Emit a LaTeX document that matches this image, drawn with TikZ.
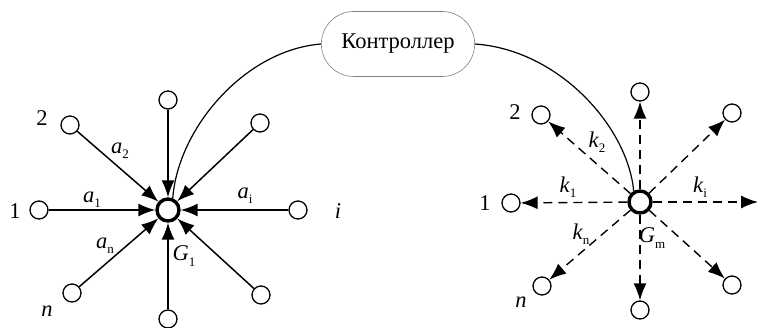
\documentclass[tikz,border=0pt]{standalone}
\usepackage{fontspec}
\setmainfont{Liberation Serif}
\usetikzlibrary{arrows.meta,shapes.misc}
\newcommand{\lbl}[2]{\textit{#1}\raisebox{-0.5ex}{\fontsize{13}{13}\selectfont #2}}
\begin{document}
\begin{tikzpicture}[x=1pt,y=-1pt,
  leaf/.style={circle,draw,line width=1.3pt,minimum size=18pt,inner sep=0pt,fill=white},
  hub/.style={circle,draw,line width=3.4pt,minimum size=22pt,inner sep=0pt,fill=white},
  inarr/.style={line width=1.5pt,-{Latex[length=17pt,width=13pt]}},
  outarr/.style={line width=1.4pt,dash pattern=on 9pt off 6pt,-{Latex[length=17pt,width=13pt]}},
  txt/.style={font=\fontsize{22.5}{22.5}\selectfont,inner sep=0pt},
  ctrlbox/.style={rounded rectangle,draw=gray,line width=0.6pt,minimum width=160pt,minimum height=65pt,font=\fontsize{22.5}{22.5}\selectfont}]
\useasboundingbox (0,0) rectangle (760,328);
% controller
\node[ctrlbox] (ctrl) at (398,44) {Контроллер};
% left star
\node[hub] (h1) at (168,210) {};
\node[leaf] (l1) at (39,210) {};
\node[leaf] (l2) at (70,125) {};
\node[leaf] (l3) at (168,100) {};
\node[leaf] (l4) at (260,123) {};
\node[leaf] (l5) at (298,210) {};
\node[leaf] (l6) at (261,295) {};
\node[leaf] (l7) at (168,319) {};
\node[leaf] (l8) at (72,293) {};
\foreach \i in {1,...,8} \draw[inarr] (l\i) -- (h1);
\node[txt] (n1) at (15,211) {1};
\node[txt] (n2) at (42,118) {2};
\node[txt] (ni) at (338,211) {\textit{i}};
\node[txt] (nn) at (47,311) {\textit{n}};
\node[txt] (a1) at (92,200) {\lbl{a}{1}};
\node[txt] (a2) at (120,151) {\lbl{a}{2}};
\node[txt] (ai) at (245,196) {\lbl{a}{i}};
\node[txt] (an) at (105,246) {\lbl{a}{n}};
\node[txt] (g1) at (184,256) {\lbl{G}{1}};
% right star
\node[hub] (h2) at (640,202) {};
\node[leaf] (r1) at (511,203) {};
\node[leaf] (r2) at (541,115) {};
\node[leaf] (r3) at (640,92) {};
\node[leaf] (r4) at (732,113) {};
\coordinate (r5) at (758,202);
\node[leaf] (r6) at (732,285) {};
\node[leaf] (r7) at (640,310) {};
\node[leaf] (r8) at (542,286) {};
\foreach \i in {1,...,8} \draw[outarr] (h2) -- (r\i);
\node[txt] (m1) at (485,203) {1};
\node[txt] (m2) at (515,112) {2};
\node[txt] (mn) at (521,302) {\textit{n}};
\node[txt] (k1) at (568,187) {\lbl{k}{1}};
\node[txt] (k2) at (597,142) {\lbl{k}{2}};
\node[txt] (ki) at (700,187) {\lbl{k}{i}};
\node[txt] (kn) at (581,234) {\lbl{k}{n}};
\node[txt] (gm) at (652,238) {\lbl{G}{m}};
% curves
\draw[line width=1.2pt] (ctrl.west) .. controls (245,50) and (178,128) .. (h1.68);
\draw[line width=1.2pt] (ctrl.east) .. controls (560,50) and (628,128) .. (h2.120);
\end{tikzpicture}
\end{document}
